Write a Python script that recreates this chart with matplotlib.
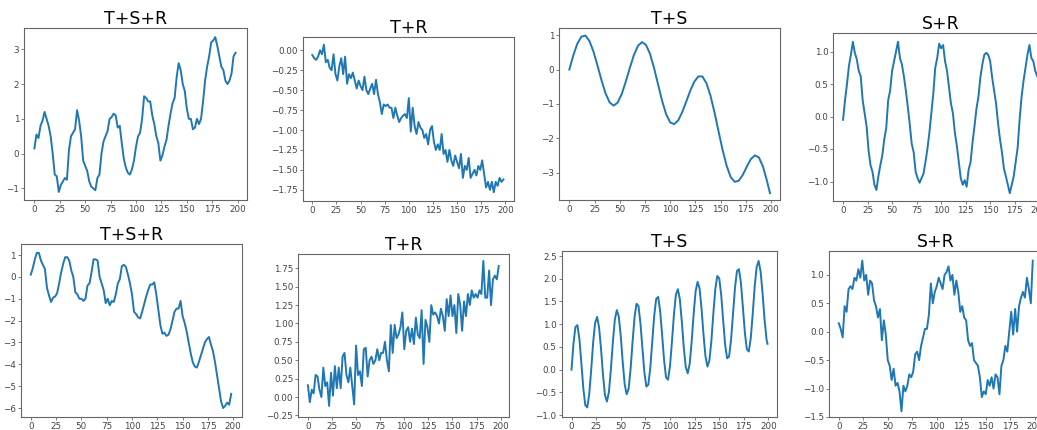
import numpy as np
import matplotlib
matplotlib.use("Agg")
import matplotlib.pyplot as plt

# x positions (every 2nd time step of 0..199)
x2 = list(range(0, 200, 2))
x4 = list(range(0, 200, 4)) + [199]
x2e = x2 + [199]

# top row
tsr_top = [0.15, 0.55, 0.45, 0.8, 0.95, 1.2, 1.0, 0.8, 0.5, 0.0,
           -0.6, -0.65, -1.1, -0.9, -0.8, -0.7, -0.75, 0.1, 0.5, 0.6,
           0.7, 1.25, 0.95, 0.5, -0.2, -0.35, -0.5, -0.8, -0.95, -1.0,
           -1.05, -0.7, -0.6, 0.0, 0.35, 0.5, 0.65, 1.0, 1.05, 1.15,
           1.1, 0.75, 0.8, 0.3, -0.15, -0.4, -0.55, -0.6, -0.45, -0.2,
           0.2, 0.5, 0.6, 1.0, 1.65, 1.6, 1.5, 1.5, 1.1, 0.85,
           0.5, 0.3, -0.2, -0.05, 0.2, 0.4, 0.8, 1.15, 1.45, 1.6,
           2.2, 2.6, 2.4, 2.0, 1.8, 1.3, 1.0, 1.0, 0.7, 0.75,
           1.0, 0.85, 1.0, 1.5, 2.1, 2.5, 2.8, 3.2, 3.25, 3.35,
           3.1, 2.8, 2.5, 2.4, 2.1, 2.0, 2.1, 2.3, 2.8, 2.9]

tr_top = [-0.06, -0.1, -0.12, -0.08, 0.0, -0.05, 0.07, -0.15, -0.12, -0.22,
          -0.25, -0.05, -0.3, -0.38, -0.2, -0.1, -0.3, -0.08, -0.42, -0.3,
          -0.35, -0.28, -0.38, -0.48, -0.38, -0.45, -0.5, -0.33, -0.5, -0.55,
          -0.48, -0.42, -0.55, -0.37, -0.55, -0.65, -0.8, -0.68, -0.7, -0.68,
          -0.72, -0.72, -0.85, -0.72, -0.82, -0.9, -0.85, -0.82, -0.8, -0.85,
          -0.6, -1.02, -0.72, -0.95, -1.05, -0.9, -0.97, -1.0, -1.1, -1.05,
          -1.18, -1.0, -0.95, -1.15, -1.25, -1.18, -1.25, -1.05, -1.3, -1.25,
          -1.4, -1.25, -1.38, -1.45, -1.32, -1.4, -1.48, -1.3, -1.6, -1.45,
          -1.5, -1.35, -1.6, -1.55, -1.5, -1.57, -1.45, -1.5, -1.38, -1.55,
          -1.72, -1.65, -1.75, -1.65, -1.78, -1.65, -1.7, -1.6, -1.65, -1.62]

ts_top = [0.0, 0.42, 0.76, 0.96, 0.99, 0.83, 0.52, 0.11, -0.32, -0.70,
          -0.96, -1.05, -0.96, -0.71, -0.35, 0.05, 0.42, 0.69, 0.80, 0.72,
          0.46, 0.05, -0.43, -0.91, -1.30, -1.54, -1.59, -1.48, -1.24, -0.93,
          -0.61, -0.35, -0.20, -0.20, -0.40, -0.76, -1.25, -1.80, -2.34, -2.80,
          -3.13, -3.27, -3.24, -3.07, -2.83, -2.61, -2.50, -2.56, -2.82, -3.24,
          -3.6]

sr_top = [-0.05, 0.25, 0.5, 0.78, 0.95, 1.15, 0.98, 0.88, 0.7, 0.62,
          0.25, 0.05, -0.15, -0.52, -0.75, -0.85, -1.05, -1.13, -0.92, -0.75,
          -0.6, -0.35, -0.18, 0.25, 0.4, 0.7, 0.85, 1.0, 1.15, 0.9,
          0.8, 0.62, 0.4, 0.15, -0.12, -0.42, -0.55, -0.85, -0.95, -1.02,
          -0.95, -0.88, -0.7, -0.5, -0.25, 0.05, 0.35, 0.75, 0.9, 1.12,
          1.05, 1.1, 0.85, 0.7, 0.45, 0.2, 0.05, -0.25, -0.45, -0.7,
          -0.95, -1.05, -0.98, -1.08, -0.82, -0.7, -0.4, -0.15, 0.12, 0.3,
          0.6, 0.8, 0.95, 0.98, 0.95, 0.85, 0.6, 0.4, 0.2, -0.1,
          -0.35, -0.55, -0.8, -0.92, -1.05, -1.18, -1.05, -0.92, -0.7, -0.48,
          -0.05, 0.3, 0.55, 0.75, 0.95, 1.1, 0.9, 0.85, 0.7, 0.62]

# bottom row
tsr_bot = [0.1, 0.4, 0.8, 1.1, 1.1, 0.75, 0.55, 0.35, -0.5, -0.85,
           -1.15, -0.95, -0.9, -0.75, -0.3, 0.2, 0.6, 0.9, 0.9, 0.75,
           0.3, 0.0, -0.7, -0.8, -1.0, -1.0, -1.1, -1.0, -0.4, -0.3,
           0.2, 0.8, 0.8, 0.75, 0.0, -0.3, -0.6, -1.2, -1.0, -1.3,
           -1.1, -1.15, -0.8, -0.3, -0.1, 0.5, 0.55, 0.45, 0.1, -0.3,
           -0.8, -1.6, -1.7, -1.85, -1.9, -1.6, -1.25, -0.9, -0.6, -0.35,
           -0.35, -0.25, -0.8, -1.5, -2.2, -2.6, -2.55, -2.7, -2.65, -2.4,
           -2.0, -1.6, -1.45, -1.45, -1.1, -1.8, -2.1, -2.5, -3.0, -3.5,
           -3.9, -4.1, -4.15, -3.9, -3.6, -3.3, -3.0, -2.85, -2.75, -3.1,
           -3.4, -3.9, -4.5, -5.1, -5.7, -6.0, -5.9, -5.75, -5.85, -5.35]

tr_bot = [0.16, -0.07, 0.1, 0.05, 0.3, 0.28, 0.1, 0.0, 0.4, 0.15,
          0.2, -0.12, 0.33, 0.02, 0.42, 0.12, 0.4, 0.12, 0.55, 0.6,
          0.3, 0.2, 0.4, 0.15, -0.1, 0.7, 0.3, 0.35, 0.15, 0.65,
          0.67, 0.28, 0.5, 0.55, 0.45, 0.5, 0.65, 0.5, 0.6, 0.6,
          0.75, 0.5, 0.35, 0.98, 0.6, 0.98, 0.8, 0.85, 0.95, 1.15,
          0.65, 0.9, 0.95, 0.75, 0.93, 0.72, 1.08, 0.85, 0.8, 1.18,
          0.45, 1.05, 0.95, 0.75, 1.25, 1.12, 1.15, 1.1, 1.0, 1.2,
          1.1, 0.9, 1.33, 1.1, 1.38, 1.1, 1.25, 0.87, 1.4, 1.25,
          0.9, 1.3, 1.1, 1.4, 1.25, 1.45, 1.35, 1.4, 1.35, 1.45,
          1.4, 1.85, 1.35, 1.35, 1.72, 1.25, 1.6, 1.65, 1.6, 1.78]

ts_bot = [0.0, 0.57, 0.94, 0.98, 0.68, 0.15, -0.41, -0.78, -0.83, -0.54,
          0.0, 0.6, 1.03, 1.16, 0.93, 0.45, -0.12, -0.56, -0.7, -0.49,
          0.01, 0.61, 1.1, 1.31, 1.17, 0.74, 0.17, -0.32, -0.54, -0.42,
          0.02, 0.61, 1.15, 1.45, 1.4, 1.02, 0.47, -0.06, -0.37, -0.33,
          0.04, 0.62, 1.19, 1.56, 1.6, 1.29, 0.77, 0.21, -0.17, -0.22,
          0.08, 0.62, 1.21, 1.65, 1.77, 1.55, 1.06, 0.49, 0.06, -0.08,
          0.13, 0.62, 1.22, 1.72, 1.93, 1.79, 1.35, 0.78, 0.3, 0.07,
          0.2, 0.63, 1.23, 1.77, 2.06, 2.01, 1.64, 1.08, 0.55, 0.25,
          0.29, 0.66, 1.23, 1.8, 2.17, 2.21, 1.91, 1.38, 0.82, 0.45,
          0.4, 0.69, 1.23, 1.83, 2.26, 2.39, 2.16, 1.68, 1.11, 0.67,
          0.57]

sr_bot = [0.15, 0.05, -0.1, 0.45, 0.35, 0.75, 0.8, 0.75, 0.95, 0.9,
          1.1, 0.95, 1.25, 0.9, 1.0, 0.65, 0.9, 0.85, 0.55, 0.45,
          0.25, 0.4, -0.15, 0.2, -0.05, -0.5, -0.6, -0.85, -0.65, -0.95,
          -0.9, -1.05, -1.4, -0.95, -1.05, -0.95, -0.75, -0.8, -0.7, -0.4,
          -0.35, -0.5, -0.25, -0.1, 0.05, 0.05, 0.3, 0.85, 0.5, 0.7,
          0.8, 0.95, 0.85, 0.75, 1.0, 1.05, 1.15, 0.9, 1.0, 0.65,
          0.9, 0.7, 0.35, 0.45, 0.25, 0.2, -0.15, -0.25, -0.2, -0.5,
          -0.55, -0.6, -0.8, -1.15, -1.05, -1.1, -0.85, -0.95, -0.8, -1.0,
          -0.75, -0.8, -1.1, -0.6, -0.5, -0.25, -0.35, 0.0, 0.35, -0.05,
          0.4, 0.0, 0.45, 0.6, 0.7, 0.6, 0.95, 0.75, 0.5, 1.25]

W, H = 1037, 430

def box(l, r, t, b):
  return [l / W, 1 - b / H, (r - l) / W, (b - t) / H]

panels = [
  ("T+S+R", x2, tsr_top, box(24.3, 246.7, 27.7, 200.3), (-1.34, 3.62)),
  ("T+R", x2, tr_top, box(302.7, 514, 36.7, 201), (-1.89, 0.17)),
  ("T+S", x4, ts_top, box(559.3, 780, 27.7, 200), (-3.80, 1.22)),
  ("S+R", x2, sr_top, box(833.3, 1048, 33.3, 201), (-1.30, 1.28)),
  ("T+S+R", x2, tsr_bot, box(20.7, 242.3, 244.3, 417.0), (-6.41, 1.49)),
  ("T+R", x2, tr_bot, box(298.3, 509.3, 254.3, 417.3), (-0.275, 1.94)),
  ("T+S", x2e, ts_bot, box(561.7, 777.3, 251, 417.0), (-1.04, 2.61)),
  ("S+R", x2, sr_bot, box(829, 1043.5, 251, 417.0), (-1.50, 1.42)),
]

fig = plt.figure(figsize=(W / 100, H / 100), dpi=100)
for title, xs, ys, rect, yl in panels:
  ax = fig.add_axes(rect)
  ax.plot(xs, ys, color='#1f77b4', linewidth=1.4)
  ax.set_xlim(-9.95, 208.95)
  ax.set_ylim(*yl)
  ax.set_xticks([0, 25, 50, 75, 100, 125, 150, 175, 200])
  ax.set_title(title, fontsize=12.5, pad=3)
  ax.tick_params(labelsize=6.3, labelcolor='#444444', color='#666666',
                 length=2.3, width=0.6, pad=1.3)
  for s in ax.spines.values():
    s.set_color('#666666')
    s.set_linewidth(0.8)

fig.savefig("out.png", dpi=100)
